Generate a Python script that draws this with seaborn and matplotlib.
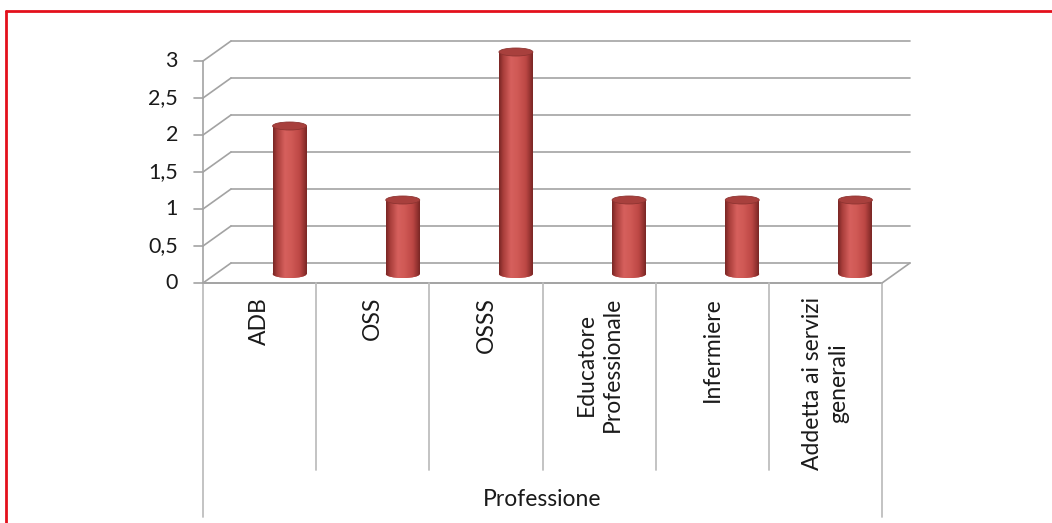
import numpy as np
import pandas as pd
import matplotlib
matplotlib.use("Agg")
import matplotlib.pyplot as plt
import seaborn as sns
from matplotlib.transforms import ScaledTranslation, blended_transform_factory, IdentityTransform
from matplotlib.patches import Ellipse
from matplotlib.lines import Line2D
from matplotlib.colors import LinearSegmentedColormap

# dati
professioni = ["ADB", "OSS", "OSSS", "Educatore\nProfessionale", "Infermiere",
               "Addetta ai servizi\ngenerali"]
conteggi = [2, 1, 3, 1, 1, 1]
y_ticks = [0, 0.5, 1, 1.5, 2, 2.5, 3]
y_tick_labels = ["0", "0,5", "1", "1,5", "2", "2,5", "3"]
x_title = "Professione"

sns.set_style("white")
plt.rcParams["font.family"] = ["Lato", "DejaVu Sans"]

W, H = 1052, 523
fig = plt.figure(figsize=(W / 100, H / 100), dpi=100)


def fx(px):
    return px / W


def fy(py):
    return 1 - py / H


ax = fig.add_axes([fx(203), fy(283), fx(882) - fx(203), fy(61) - fy(283)])

df = pd.DataFrame({"Professione": professioni, "Conteggio": conteggi})
sns.barplot(data=df, x="Professione", y="Conteggio", order=professioni,
            color="#C04B48", width=0.30, ax=ax, zorder=3)

grid_col = "#A3A3A3"
div_col = "#BEBEBE"
txt_col = "#1a1a1a"
dpi_tr = fig.dpi_scale_trans
back = ax.transData + ScaledTranslation(28 / 100, 20 / 100, dpi_tr)
bar_tf = ax.transData + ScaledTranslation(30 / 100, 9 / 100, dpi_tr)
x_lo, x_hi = -0.5, len(professioni) - 0.5


def set_limits():
    ax.set_xlim(x_lo, x_hi)
    ax.set_ylim(0, 3)


set_limits()
ax.axis("off")

# pareti 3D: griglia sul fondo e diagonali sul lato
for v in y_ticks:
    ax.plot([x_lo, x_hi], [v, v], transform=back, color=grid_col, lw=1.2,
            clip_on=False, zorder=1)
    p0 = ax.transData.transform((x_lo, v))
    p1 = back.transform((x_lo, v))
    fig.add_artist(Line2D([p0[0], p1[0]], [p0[1], p1[1]], transform=IdentityTransform(),
                          color=grid_col, lw=1.2, zorder=1))
    # tick
    fig.add_artist(Line2D([p0[0] - 9, p0[0]], [p0[1], p0[1]], transform=IdentityTransform(),
                          color=grid_col, lw=1.2, zorder=1))

# bordo destro del pavimento
p0 = ax.transData.transform((x_hi, 0))
p1 = back.transform((x_hi, 0))
fig.add_artist(Line2D([p0[0], p1[0]], [p0[1], p1[1]], transform=IdentityTransform(),
                      color=grid_col, lw=1.2, zorder=1))

# asse verticale frontale e linea del pavimento
ax.plot([x_lo, x_lo], [0, 3], color=grid_col, lw=1.2, clip_on=False, zorder=2)
ax.plot([x_lo, x_hi], [0, 0], color=grid_col, lw=1.4, clip_on=False, zorder=2)

# tick labels
lab_tf = ax.transData + ScaledTranslation(-25 / 100, 0, dpi_tr)
for v, s in zip(y_ticks, y_tick_labels):
    ax.text(x_lo, v, s, transform=lab_tf, ha="right", va="center", fontsize=15.5,
            color=txt_col)

# divisori categorie sotto il pavimento
bl = blended_transform_factory(ax.transData, fig.transFigure)
edges = np.arange(len(professioni) + 1) - 0.5
for i, e in enumerate(edges):
    bottom = 517 if i in (0, len(edges) - 1) else 470
    ax.plot([e, e], [fy(283), fy(bottom)], transform=bl, color=div_col, lw=1.3,
            clip_on=False)

for i, name in enumerate(professioni):
    ax.text(i, fy(297), name, transform=bl, rotation=90, ha="center", va="top",
            multialignment="center", fontsize=16.5, color=txt_col, linespacing=1.3)

ax.text(0.5 * (x_lo + x_hi), fy(500), x_title, transform=bl, ha="center", va="center",
        fontsize=16.5, color=txt_col)

# cilindri
cmap = LinearSegmentedColormap.from_list("cyl", [
    (0.0, "#7A2725"), (0.12, "#A93E3B"), (0.35, "#D6605D"), (0.55, "#D05955"),
    (0.8, "#BC4744"), (0.93, "#933230"), (1.0, "#7A2725")])
grad = cmap(np.linspace(0, 1, 64))[None, :, :]
cap_h = 8 / 74

for patch in ax.patches:
    patch.set_transform(bar_tf)
    patch.set_clip_on(False)
    patch.set_edgecolor("none")
    x0 = patch.get_x()
    w = patch.get_width()
    h = patch.get_height()
    xc = x0 + w / 2
    im = ax.imshow(grad, extent=[x0, x0 + w, 0, h], aspect="auto", transform=bar_tf,
                   interpolation="bilinear", zorder=4)
    im.set_clip_path(patch)
    bottom_ell = Ellipse((xc, 0), w, cap_h, transform=bar_tf, facecolor="#C04B48",
                         edgecolor="none", zorder=2.5, clip_on=False)
    ax.add_patch(bottom_ell)
    im2 = ax.imshow(grad, extent=[x0, x0 + w, -cap_h, cap_h], aspect="auto",
                    transform=bar_tf, interpolation="bilinear", zorder=2.6)
    im2.set_clip_path(bottom_ell)
    top = Ellipse((xc, h), w, cap_h, transform=bar_tf, facecolor="#A8403D",
                  edgecolor="#8E3431", lw=0.6, zorder=5, clip_on=False)
    ax.add_patch(top)

set_limits()

# cornice rossa
fig.add_artist(Line2D([fx(6), 1], [fy(11), fy(11)], transform=fig.transFigure,
                      color="#E3101C", lw=2.0))
fig.add_artist(Line2D([fx(6), fx(6)], [fy(11), 0], transform=fig.transFigure,
                      color="#E3101C", lw=2.0))

fig.savefig("out.png", dpi=100, facecolor="white")
